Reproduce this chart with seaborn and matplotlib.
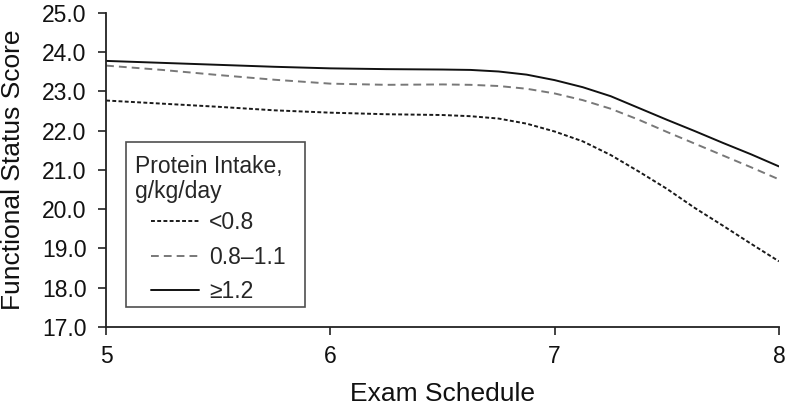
import pandas as pd
import seaborn as sns
import matplotlib.pyplot as plt
from matplotlib.offsetbox import HPacker, DrawingArea

# данные
exam = [5, 5.25, 5.5, 5.75, 6, 6.25, 6.5, 6.625, 6.75, 6.875, 7, 7.125, 7.25, 7.375, 7.5, 7.625, 7.75, 7.875, 8]
low = [22.77, 22.69, 22.61, 22.52, 22.46, 22.42, 22.40, 22.37, 22.31, 22.18, 21.98, 21.73, 21.38, 20.96, 20.52, 20.03, 19.58, 19.12, 18.67]
mid = [23.66, 23.55, 23.42, 23.30, 23.20, 23.17, 23.18, 23.17, 23.14, 23.07, 22.95, 22.78, 22.56, 22.28, 21.97, 21.67, 21.37, 21.07, 20.76]
high = [23.78, 23.73, 23.68, 23.63, 23.59, 23.57, 23.56, 23.55, 23.51, 23.43, 23.29, 23.11, 22.88, 22.58, 22.28, 21.99, 21.69, 21.40, 21.09]
groups = ['<0.8', '0.8\u20131.1', '\u22651.2']

df = pd.DataFrame({
    'exam': exam * 3,
    'score': low + mid + high,
    'group': [groups[0]] * len(exam) + [groups[1]] * len(exam) + [groups[2]] * len(exam),
})

sns.set_style('ticks')
plt.rcParams['font.family'] = ['Liberation Sans', 'DejaVu Sans']

fig = plt.figure(figsize=(7.86, 4.08), dpi=100)
ax = fig.add_axes([0.135, 0.199, 0.856, 0.769])

palette = {groups[0]: '#1a1a1a', groups[1]: '#787878', groups[2]: '#111111'}
dashes = {groups[0]: (2, 1.2), groups[1]: (4, 2.6), groups[2]: ''}
sns.lineplot(data=df, x='exam', y='score', hue='group', style='group',
             palette=palette, dashes=dashes, linewidth=1.4, ax=ax)

ax.set_xlim(5, 8)
ax.set_ylim(17, 25)
ax.set_xticks([5, 6, 7, 8])
ax.set_xticklabels(['5', '6', '7', '8'])
ax.set_yticks([17, 18, 19, 20, 21, 22, 23, 24, 25])
ax.set_yticklabels([f'{v:.1f}' for v in range(17, 26)])
ax.tick_params(labelsize=16.5, length=6, width=1.2, color='#222222', labelcolor='#111111')
ax.tick_params(axis='y', pad=8)
ax.tick_params(axis='x', pad=7)
ax.set_xlabel('Exam Schedule', fontsize=19, labelpad=10, color='#111111')
ax.set_ylabel('Functional Status Score', fontsize=19, labelpad=12, color='#111111')
for s in ['left', 'bottom']:
    ax.spines[s].set_linewidth(1.3)
    ax.spines[s].set_color('#222222')
sns.despine(ax=ax)

handles, labels = ax.get_legend_handles_labels()
leg = ax.legend(handles, labels, title='Protein Intake,\ng/kg/day', loc='lower left',
                bbox_to_anchor=(0.03, 0.064), borderaxespad=0, fontsize=16.5, title_fontsize=16.5,
                frameon=True, fancybox=False, edgecolor='#222222', handlelength=2.1,
                handletextpad=0.45, borderpad=0.15, labelspacing=0.5)
leg._legend_box.align = 'left'
leg.get_frame().set_linewidth(1.2)
leg.get_title().set_linespacing(1.1)
# отступы внутри рамки легенды
box = leg._legend_box
box.sep = 6
box._children[0] = HPacker(children=[DrawingArea(3.5, 1), leg._legend_title_box, DrawingArea(14, 1)],
                           pad=0, sep=0)
box._children[1] = HPacker(children=[DrawingArea(15, 1), leg._legend_handle_box], pad=0, sep=0)
box._children.insert(0, DrawingArea(1, 1))
box.set_figure(fig)

fig.savefig('out.png', dpi=100)
